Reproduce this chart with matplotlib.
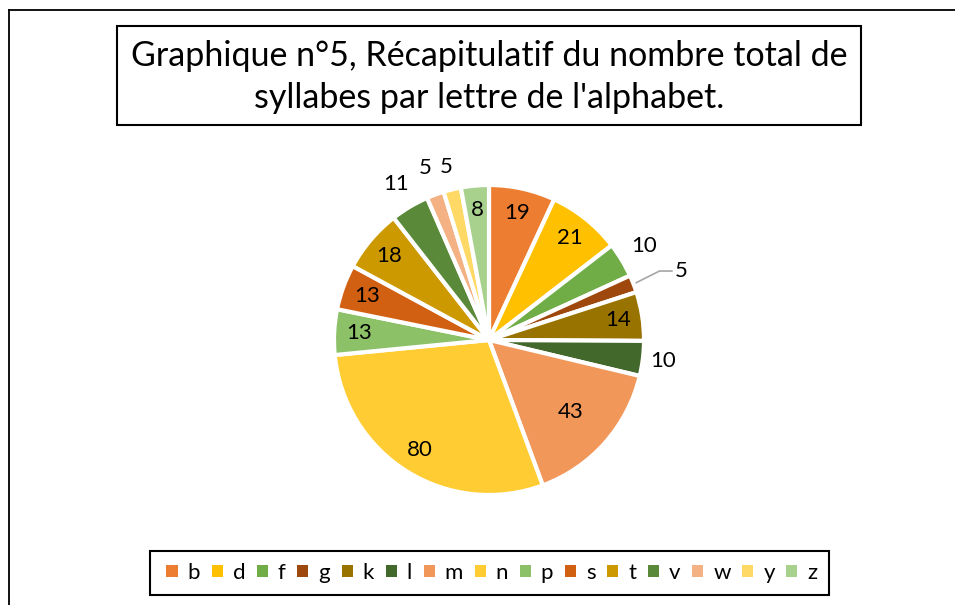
import matplotlib.pyplot as plt
from matplotlib.patches import Rectangle
from matplotlib.lines import Line2D
import numpy as np

plt.rcParams['font.family'] = ['Lato', 'DejaVu Sans']

lettres = ['b', 'd', 'f', 'g', 'k', 'l', 'm', 'n', 'p', 's', 't', 'v', 'w', 'y', 'z']
syllabes = [19, 21, 10, 5, 14, 10, 43, 80, 13, 13, 18, 11, 5, 5, 8]
couleurs = ['#ED7D31', '#FFC000', '#70AD47', '#9E480E', '#997300', '#43682B',
            '#F1975A', '#FFCD33', '#8CC168', '#D26012', '#CC9A00', '#5A8A39',
            '#F4B183', '#FFD966', '#A9D18E']
# étiquettes placées à l'extérieur (petites parts)
dehors = {'f': 1.17, 'l': 1.13, 'v': 1.17, 'w': 1.18, 'y': 1.15}

W, H = 955, 605
fig = plt.figure(figsize=(W / 100, H / 100), dpi=100)

# cadre extérieur (haut + gauche)
fig.add_artist(Line2D([9 / W, 1], [1 - 10 / H, 1 - 10 / H], color='black', lw=1.3))
fig.add_artist(Line2D([9 / W, 9 / W], [0, 1 - 10 / H], color='black', lw=1.3))

# titre encadré
fig.add_artist(Rectangle((117 / W, 1 - 125 / H), (861 - 117) / W, (125 - 26) / H,
                         fill=False, edgecolor='black', lw=1.5))
fig.text(489 / W, 1 - 56 / H, "Graphique n°5, Récapitulatif du nombre total de",
         ha='center', va='center', fontsize=24.5)
fig.text(489 / W, 1 - 98 / H, "syllabes par lettre de l'alphabet.",
         ha='center', va='center', fontsize=24.5)

# camembert
cx, cy, r = 489, 340, 155
ax = fig.add_axes([(cx - r) / W, 1 - (cy + r) / H, 2 * r / W, 2 * r / H])
wedges, _ = ax.pie(syllabes, colors=couleurs, startangle=90, counterclock=False,
                   wedgeprops=dict(edgecolor='white', linewidth=3))
ax.set_xlim(-1, 1)
ax.set_ylim(-1, 1)
ax.set_aspect('equal')

fs = 16
for w, lettre, val in zip(wedges, lettres, syllabes):
    ang = np.deg2rad((w.theta1 + w.theta2) / 2)
    if lettre == 'g':
        # ligne de rappel
        x0, y0 = 1.02 * np.cos(ang), 1.02 * np.sin(ang)
        ax.plot([x0, 1.1, 1.18], [y0, 0.445, 0.445], color='#A6A6A6', lw=1.2,
                clip_on=False)
        ax.text(1.2, 0.445, str(val), ha='left', va='center', fontsize=fs)
        continue
    if lettre in dehors:
        d = dehors[lettre]
    elif lettre == 'm':
        d = 0.7
    else:
        d = 0.84
    ax.text(d * np.cos(ang), d * np.sin(ang), str(val),
            ha='center', va='center', fontsize=fs)

# légende
fig.add_artist(Rectangle((150 / W, 1 - 595 / H), (829 - 150) / W, (595 - 551) / H,
                         fill=False, edgecolor='black', lw=1.5))
poignees = [Rectangle((0, 0), 1, 1, facecolor=c, edgecolor='none') for c in couleurs]
fig.legend(poignees, lettres, loc='center', bbox_to_anchor=(492 / W, 1 - 573 / H),
           ncol=len(lettres), frameon=False, fontsize=16, handlelength=0.5,
           handleheight=0.5, handletextpad=0.45, columnspacing=0.52)

fig.savefig('out.png', dpi=100)
